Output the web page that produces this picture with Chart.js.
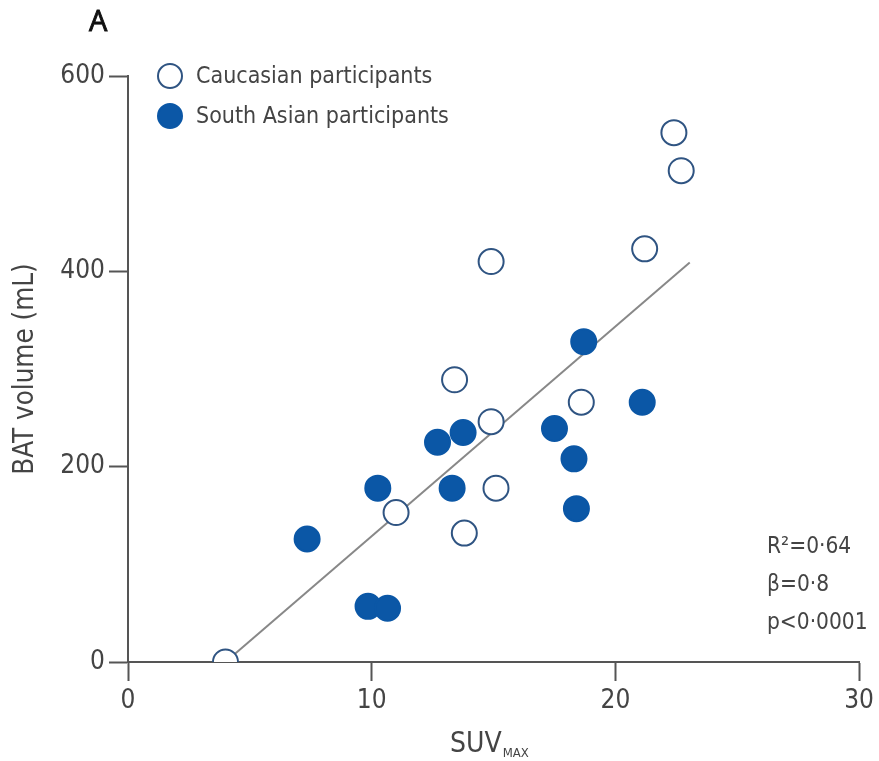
<!DOCTYPE html>
<html lang="en">
<head>
  <meta charset="UTF-8" />
  <title>BAT volume vs SUVmax</title>
  <script src="https://cdn.jsdelivr.net/npm/chart.js@4.4.1/dist/chart.umd.min.js"></script>
  <style>
    body { margin: 0; background: #fff; }
    #chart { display: block; }
  </style>
</head>
<body>
  <canvas id="chart" width="879" height="761"></canvas>

  <script>
    // Caucasian participants (open circles)
    const caucasianSuv = [4.0, 11.0, 13.8, 13.4, 14.9, 14.9, 15.1, 18.6, 21.2, 22.4, 22.7]
    const caucasianVol = [0, 153, 132, 289, 410, 246, 178, 266, 423, 542, 503]

    // South Asian participants (filled circles)
    const southAsianSuv = [7.35, 9.85, 10.65, 10.25, 12.7, 13.75, 13.3, 17.5, 18.3, 18.4, 18.7, 21.1]
    const southAsianVol = [126, 57, 55, 178, 225, 235, 178, 239, 208, 157, 328, 266]

    // regression line end points
    const fitSuv = [4.0, 23.05]
    const fitVol = [0, 409]

    const xTicks = [0, 10, 20, 30]
    const yTicks = [0, 200, 400, 600]
    const stats = ['R\u00b2=0\u00b764', '\u03b2=0\u00b78', 'p<0\u00b70001']

    const openBlue = '#2f5482'
    const fillBlue = '#0b57a6'
    const axisGrey = '#555'
    const textGrey = '#444'
    const fontFam = '"DejaVu Sans Condensed", sans-serif'

    function toPoints(xs, ys) {
      return xs.map((x, i) => ({ x: x, y: ys[i] }))
    }

    const extras = {
      id: 'extras',
      afterDraw(chart) {
        const ctx = chart.ctx
        ctx.save()

        // panel letter, a little heavier than the regular face
        ctx.fillStyle = '#111'
        ctx.strokeStyle = '#111'
        ctx.lineWidth = 0.9
        ctx.font = '29px "Open Sans", sans-serif'
        ctx.textBaseline = 'middle'
        ctx.textAlign = 'left'
        ctx.fillText('A', 89, 23)
        ctx.strokeText('A', 89, 23)

        // legend
        const legend = [
          { label: 'Caucasian participants', fill: '#fff', stroke: openBlue },
          { label: 'South Asian participants', fill: fillBlue, stroke: fillBlue }
        ]
        legend.forEach((item, i) => {
          const cy = 76 + i * 40
          ctx.beginPath()
          ctx.arc(170, cy, 12, 0, Math.PI * 2)
          ctx.fillStyle = item.fill
          ctx.fill()
          ctx.lineWidth = 2
          ctx.strokeStyle = item.stroke
          ctx.stroke()
          ctx.fillStyle = textGrey
          ctx.font = '23px ' + fontFam
          ctx.textAlign = 'left'
          ctx.fillText(item.label, 196, cy + 1)
        })

        // statistics
        ctx.font = '22.5px ' + fontFam
        ctx.fillStyle = textGrey
        stats.forEach((s, i) => ctx.fillText(s, 767, 547 + i * 38))

        // x axis title with subscript
        ctx.textBaseline = 'alphabetic'
        ctx.font = '28px ' + fontFam
        ctx.textAlign = 'left'
        ctx.fillText('SUV', 450, 752)
        const w = ctx.measureText('SUV').width
        ctx.font = '13px ' + fontFam
        ctx.fillText('MAX', 450 + w + 1, 757)

        ctx.restore()
      }
    }

    function renderChart() {
      const ctx = document.getElementById('chart').getContext('2d')
      new Chart(ctx, {
        type: 'scatter',
        data: {
          datasets: [
            {
              label: 'Caucasian participants',
              data: toPoints(caucasianSuv, caucasianVol),
              pointRadius: 12.5,
              pointBorderWidth: 2,
              pointBackgroundColor: '#fff',
              pointBorderColor: openBlue,
              order: 1
            },
            {
              label: 'South Asian participants',
              data: toPoints(southAsianSuv, southAsianVol),
              pointRadius: 12.5,
              pointBorderWidth: 2,
              pointBackgroundColor: fillBlue,
              pointBorderColor: fillBlue,
              order: 2
            },
            {
              label: 'fit',
              type: 'line',
              data: toPoints(fitSuv, fitVol),
              borderColor: '#888',
              borderWidth: 2,
              pointRadius: 0,
              order: 3
            }
          ]
        },
        options: {
          responsive: false,
          animation: false,
          devicePixelRatio: 1,
          layout: { padding: { top: 76, right: 17, left: 0, bottom: 0 } },
          plugins: {
            legend: { display: false },
            tooltip: { enabled: false }
          },
          scales: {
            x: {
              type: 'linear',
              min: 0,
              max: 30,
              afterBuildTicks: (s) => { s.ticks = xTicks.map(v => ({ value: v })) },
              afterFit: (s) => { s.height = 99 },
              border: { display: true, color: axisGrey, width: 2 },
              grid: { drawOnChartArea: false, drawTicks: true, tickLength: 19, tickColor: axisGrey, tickWidth: 2 },
              ticks: { color: textGrey, font: { family: fontFam, size: 26 }, padding: 5 }
            },
            y: {
              type: 'linear',
              min: 0,
              max: 600,
              afterBuildTicks: (s) => { s.ticks = yTicks.map(v => ({ value: v })) },
              afterFit: (s) => { s.width = 128 },
              border: { display: true, color: axisGrey, width: 2 },
              grid: { drawOnChartArea: false, drawTicks: true, tickLength: 19, tickColor: axisGrey, tickWidth: 2 },
              ticks: { color: textGrey, font: { family: fontFam, size: 26 }, padding: 4 },
              title: {
                display: true,
                text: 'BAT volume (mL)',
                color: textGrey,
                font: { family: fontFam, size: 27.5 },
                padding: { top: 9, bottom: 0 }
              }
            }
          }
        },
        plugins: [extras]
      })
    }

    renderChart()
  </script>
</body>
</html>
